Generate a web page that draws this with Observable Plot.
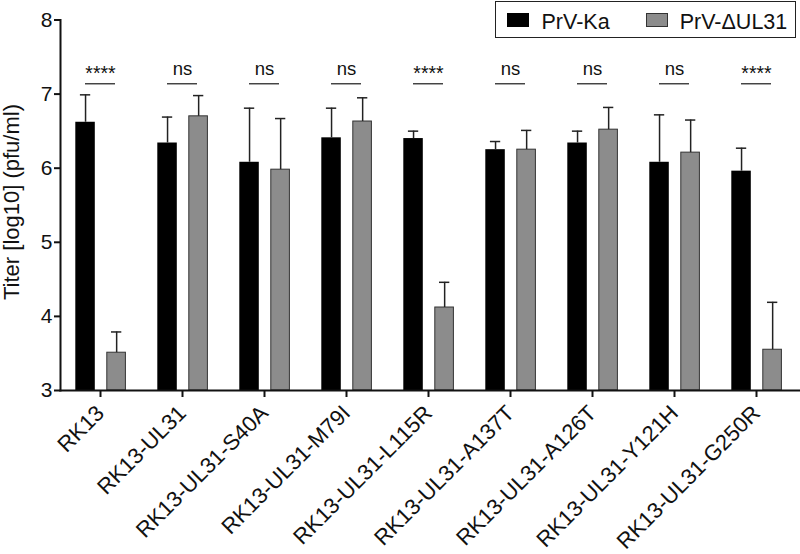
<!DOCTYPE html>
<html><head><meta charset="utf-8">
<script src="https://cdn.jsdelivr.net/npm/d3@7"></script>
<script src="https://cdn.jsdelivr.net/npm/@observablehq/plot@0.6"></script>
<style>
body{margin:0;background:#fff;font-family:"Liberation Sans",Arial,sans-serif}
#wrap{position:relative;width:800px;height:554px}
#legend{position:absolute;left:495px;top:1px;width:301px;height:36.5px;border:1.5px solid #222;box-sizing:border-box;font-size:21.5px;color:#111}
#legend .sw{position:absolute;top:10.8px;width:22px;height:14px}
#legend .lb{position:absolute;top:7.5px;line-height:24px;white-space:nowrap}
#ylabel{position:absolute;left:11.5px;top:202px;transform:translate(-50%,-50%) rotate(-90deg);font-size:22px;line-height:22px;white-space:nowrap;color:#111}
</style>
</head><body>
<div id="wrap"><div id="chart"></div>
<div id="ylabel"></div>
<div id="legend">
<span class="sw" style="left:10.8px;background:#000"></span><span class="lb" id="l0" style="left:45.5px"></span>
<span class="sw" style="left:150.2px;background:#8c8c8c;border:1px solid #333;box-sizing:border-box"></span><span class="lb" id="l1" style="left:183.7px"></span>
</div></div>
<script>
const categories = ["RK13","RK13-UL31","RK13-UL31-S40A","RK13-UL31-M79I","RK13-UL31-L115R","RK13-UL31-A137T","RK13-UL31-A126T","RK13-UL31-Y121H","RK13-UL31-G250R"];
const series = ["PrV-Ka","PrV-\u0394UL31"];
const kaMean = [6.62,6.34,6.08,6.41,6.40,6.25,6.34,6.08,5.96];
const kaSD   = [0.37,0.35,0.73,0.40,0.10,0.11,0.16,0.64,0.31];
const dMean  = [3.51,6.70,5.98,6.63,4.12,6.25,6.52,6.21,3.55];
const dSD    = [0.28,0.28,0.69,0.32,0.34,0.26,0.30,0.44,0.64];
const sig    = ["****","ns","ns","ns","****","ns","ns","ns","****"];
const sigLevel = 7.14;
const yTicks = [3,4,5,6,7,8];
const yLabel = "Titer [log10] (pfu/ml)";

document.getElementById("l0").textContent = series[0];
document.getElementById("l1").textContent = series[1];
document.getElementById("ylabel").textContent = yLabel;

const ka = categories.map((c,i)=>({cat:c, mean:kaMean[i], sd:kaSD[i]}));
const dl = categories.map((c,i)=>({cat:c, mean:dMean[i], sd:dSD[i]}));
const sg = categories.map((c,i)=>({cat:c, label:sig[i], level:sigLevel}));

const chart = Plot.plot({
  width: 800, height: 554,
  marginLeft: 60, marginRight: 0, marginTop: 19.5, marginBottom: 164,
  style: {fontFamily: "'Liberation Sans', Arial, sans-serif", color: "#111", background: "#fff"},
  x: {domain: categories, range: [56.35, 800.65], padding: 0},
  y: {domain: [3, 8]},
  marks: [
    Plot.barY(ka, {x: "cat", y1: 3, y2: "mean", fill: "#000", insetLeft: 16.3, insetRight: 46.2}),
    Plot.barY(dl, {x: "cat", y1: 3, y2: "mean", fill: "#8c8c8c", stroke: "#333", strokeWidth: 1, insetLeft: 47.8, insetRight: 15.6}),
    Plot.ruleX(ka, {x: "cat", y1: "mean", y2: d => d.mean + d.sd, dx: -14.95, stroke: "#222", strokeWidth: 1.5}),
    Plot.ruleX(dl, {x: "cat", y1: "mean", y2: d => d.mean + d.sd, dx: 16.15, stroke: "#222", strokeWidth: 1.5}),
    Plot.tickY(ka, {x: "cat", y: d => d.mean + d.sd, insetLeft: 20.9, insetRight: 50.8, stroke: "#222", strokeWidth: 1.5}),
    Plot.tickY(dl, {x: "cat", y: d => d.mean + d.sd, insetLeft: 52, insetRight: 19.7, stroke: "#222", strokeWidth: 1.5}),
    Plot.tickY(sg, {x: "cat", y: "level", insetLeft: 26, insetRight: 26, stroke: "#444", strokeWidth: 1.5}),
    Plot.text(sg.filter(d => d.label === "ns"), {x: "cat", y: "level", text: "label", lineAnchor: "bottom", dy: -9, fontSize: 18.5, fill: "#111"}),
    Plot.text(sg.filter(d => d.label !== "ns"), {x: "cat", y: "level", text: "label", lineAnchor: "bottom", dy: -4, fontSize: 19.5, fill: "#111"}),
    Plot.axisY({ticks: yTicks, tickFormat: "d", tickSize: 6, tickPadding: 2, fontSize: 21, strokeWidth: 2, label: null}),
    Plot.axisX({tickRotate: -45, tickSize: 7, tickPadding: 12, fontSize: 22, strokeWidth: 2, label: null}),
    Plot.frame({anchor: "left", strokeWidth: 2, stroke: "#111"}),
    Plot.frame({anchor: "bottom", strokeWidth: 2, stroke: "#111"})
  ]
});
document.getElementById("chart").appendChild(chart);
</script>
</body></html>
